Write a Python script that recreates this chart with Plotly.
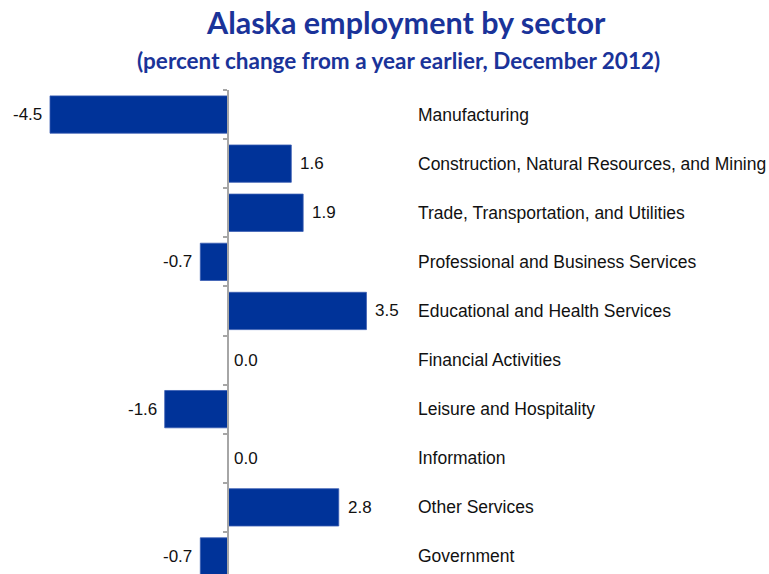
import plotly.graph_objects as go

sectors = [
    "Manufacturing",
    "Construction, Natural Resources, and Mining",
    "Trade, Transportation, and Utilities",
    "Professional and Business Services",
    "Educational and Health Services",
    "Financial Activities",
    "Leisure and Hospitality",
    "Information",
    "Other Services",
    "Government",
]
pct_change = [-4.5, 1.6, 1.9, -0.7, 3.5, 0.0, -1.6, 0.0, 2.8, -0.7]

W, H = 769, 574
BLUE = "#003399"
VALUE_FONT = dict(family="Liberation Sans, Arial", size=17, color="#111111")
NAME_FONT = dict(family="Liberation Sans, Arial", size=17.5, color="#111111")

# horizontal layout: zero line at 228 px, 39.56 px per percentage point
px_per_unit = 178 / 4.5
zero_px = 228
x_range = [-zero_px / px_per_unit, (W - zero_px) / px_per_unit]

# vertical layout: rows start at 90 px, 49.1 px per row
row_px = 49.1
top_px = 90
y_range = [-0.5 + (H - top_px) / row_px, -0.5]
plot_top_frac = 1 - top_px / H

pos = list(range(len(sectors)))

fig = go.Figure()
fig.add_trace(go.Bar(
    x=pct_change,
    y=pos,
    orientation="h",
    width=0.76,
    marker=dict(color=BLUE, line=dict(color="#3a5db3", width=0.8)),
    hoverinfo="skip",
))

annotations = []
for i, (name, v) in enumerate(zip(sectors, pct_change)):
    if v < 0:
        annotations.append(dict(x=v, y=i, xref="x", yref="y", text=f"{v:.1f}",
                                showarrow=False, xanchor="right", xshift=-6,
                                font=VALUE_FONT))
    else:
        annotations.append(dict(x=v, y=i, xref="x", yref="y", text=f"{v:.1f}",
                                showarrow=False, xanchor="left",
                                xshift=7 if v > 0 else 4, font=VALUE_FONT))
    annotations.append(dict(x=(416 - zero_px) / px_per_unit, y=i, xref="x", yref="y",
                            text=name, showarrow=False, xanchor="left",
                            font=NAME_FONT))

annotations.append(dict(x=406 / W, y=1 - 22 / H, xref="paper", yref="paper",
                        text="<b>Alaska employment by sector</b>", showarrow=False,
                        xanchor="center", yanchor="middle",
                        font=dict(family="Lato, Open Sans", size=30.5, color="#1a3399")))
annotations.append(dict(x=398 / W, y=1 - 60 / H, xref="paper", yref="paper",
                        text="<b>(percent change from a year earlier, December 2012)</b>",
                        showarrow=False, xanchor="center", yanchor="middle",
                        font=dict(family="Lato, Open Sans", size=22.5, color="#1a3399")))

fig.update_layout(
    width=W, height=H,
    margin=dict(l=0, r=0, t=0, b=0),
    paper_bgcolor="white", plot_bgcolor="white",
    showlegend=False,
    annotations=annotations,
    xaxis=dict(range=x_range, visible=False, fixedrange=True),
    yaxis=dict(
        range=y_range,
        domain=[0, plot_top_frac],
        anchor="free",
        position=zero_px / W,
        showline=True, linecolor="#a6a6a6", linewidth=1.5,
        tickmode="array",
        tickvals=[p - 0.5 for p in pos] + [len(pos) - 0.5],
        ticktext=[""] * (len(pos) + 1),
        ticks="outside", ticklen=4, tickcolor="#a6a6a6", tickwidth=1.5,
        showgrid=False, zeroline=False, fixedrange=True,
    ),
)

fig.write_html("out.html")
